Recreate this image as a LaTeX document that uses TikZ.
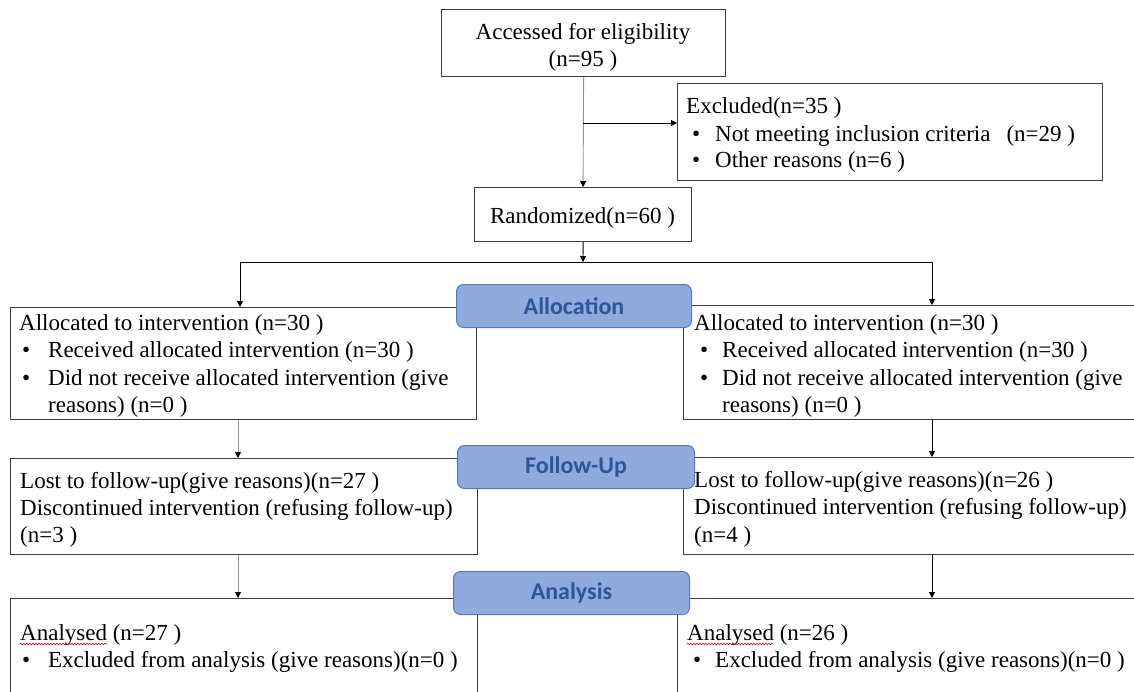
\documentclass[tikz,border=0pt]{standalone}
\usepackage{fontspec}
\setmainfont{Liberation Serif}
\newfontfamily\labfont{Carlito}
\usetikzlibrary{arrows.meta,decorations.pathmorphing}
\definecolor{labfill}{RGB}{143,170,220}
\definecolor{labdraw}{RGB}{84,120,196}
\definecolor{labtext}{RGB}{47,85,151}
\definecolor{boxdraw}{RGB}{60,60,60}
\definecolor{glinec}{RGB}{150,150,150}
\newcommand{\bul}[1]{\makebox[#1][l]{\textbullet}}
\begin{document}
\begin{tikzpicture}[x=1pt,y=-1pt,
  box/.style={draw=boxdraw,line width=1.2pt,inner sep=0pt,anchor=north west,fill=white},
  lab/.style={draw=labdraw,line width=1pt,fill=labfill,rounded corners=7pt,inner sep=0pt,
     anchor=north west,text=labtext,font=\labfont\bfseries\fontsize{24}{28}\selectfont},
  ln/.style={inner sep=0pt,anchor=base west,font=\fontsize{23}{27.5}\selectfont},
  lnc/.style={ln,anchor=base},
  conn/.style={draw=black,line width=0.9pt},
  gconn/.style={draw=glinec,line width=0.9pt},
  tip/.style={-{Triangle[length=6pt,width=6pt,color=black]}},
  squig/.style={draw=red!85!black,line width=0.6pt,decorate,
     decoration={snake,amplitude=0.8pt,segment length=3pt}}
]
\useasboundingbox (0,0) rectangle (1134,691);
\fill[white] (0,0) rectangle (1134,691);

% boxes
\node[box,minimum width=284pt,minimum height=67pt] (acc) at (441,9) {};
\node[box,minimum width=425pt,minimum height=97pt] (excl) at (677,83) {};
\node[box,minimum width=217pt,minimum height=54pt] (rand) at (474,187) {};
\node[box,minimum width=466pt,minimum height=112pt] (la) at (10,307) {};
\node[box,minimum width=460pt,minimum height=114pt] (ra) at (683,305) {};
\node[box,minimum width=467pt,minimum height=96pt] (lf) at (10,458) {};
\node[box,minimum width=460pt,minimum height=97pt] (rf) at (683,457) {};
\node[box,minimum width=467pt,minimum height=130pt] (lan) at (10,598) {};
\node[box,minimum width=466pt,minimum height=130pt] (ran) at (677,598) {};

% connectors
\coordinate (j1) at (583,123);
\draw[gconn,tip] (acc.south) -- (rand.north);
\draw[conn,tip] (j1) -- (j1 -| excl.west);
\coordinate (sl) at (240,262);
\coordinate (sr) at (932,262);
\coordinate (sm) at (583,262);
\draw[conn,tip] (rand.south) -- (sm);
\draw[conn] (sl) -- (sr);
\draw[conn,tip] (sl) -- (sl |- la.north);
\draw[conn,tip] (sr) -- (sr |- ra.north);
\coordinate (cl) at (238,0);
\draw[gconn,tip] (cl |- la.south) -- (cl |- lf.north);
\draw[gconn,tip] (cl |- lf.south) -- (cl |- lan.north);
\draw[conn,tip] (sr |- ra.south) -- (sr |- rf.north);
\draw[conn,tip] (sr |- rf.south) -- (sr |- ran.north);

% stage labels
\node[lab,minimum width=235pt,minimum height=43pt] (alloc) at (456,284) {Allocation};
\node[lab,minimum width=237pt,minimum height=43pt] (fup) at (457,445) {Follow-Up};
\node[lab,minimum width=236pt,minimum height=43pt] (anal) at (453,571) {Analysis};

% texts
\node[lnc] (t1) at (583,39) {Accessed for eligibility};
\node[lnc] (t2) at (583,66) {(n=95 )};

\node[ln] (e1) at (686,113) {Excluded(n=35 )};
\node[ln] (e2) at (692,141) {\bul{23pt}Not meeting inclusion criteria\hspace{16pt}(n=29 )};
\node[ln] (e3) at (692,167) {\bul{23pt}Other reasons (n=6 )};

\node[lnc] (r1) at (582.5,223) {Randomized(n=60 )};

\node[ln] (a1) at (19,330) {Allocated to intervention (n=30 )};
\node[ln] (a2) at (22,357) {\bul{26pt}Received allocated intervention (n=30 )};
\node[ln] (a3) at (22,385) {\bul{26pt}Did not receive allocated intervention (give};
\node[ln] (a4) at (48,412) {reasons) (n=0 )};

\node[ln] (b1) at (694,330) {Allocated to intervention (n=30 )};
\node[ln] (b2) at (700,357) {\bul{22pt}Received allocated intervention (n=30 )};
\node[ln] (b3) at (700,385) {\bul{22pt}Did not receive allocated intervention (give};
\node[ln] (b4) at (722,412) {reasons) (n=0 )};

\node[ln] (f1) at (20,488) {Lost to follow-up(give reasons)(n=27 )};
\node[ln] (f2) at (20,515) {Discontinued intervention (refusing follow-up)};
\node[ln] (f3) at (20,542) {(n=3 )};

\node[ln] (g1) at (694,487) {Lost to follow-up(give reasons)(n=26 )};
\node[ln] (g2) at (694,514) {Discontinued intervention (refusing follow-up)};
\node[ln] (g3) at (694,542) {(n=4 )};

\node[ln] (h1) at (20,640) {Analysed (n=27 )};
\node[ln] (h2) at (22,667) {\bul{26pt}Excluded from analysis (give reasons)(n=0 )};

\node[ln] (k1) at (687,640) {Analysed (n=26 )};
\node[ln] (k2) at (693,667) {\bul{22pt}Excluded from analysis (give reasons)(n=0 )};

% spell-check underline
\draw[squig] (h1.base west) ++(0,4) -- ++(87,0);
\draw[squig] (k1.base west) ++(0,4) -- ++(86,0);
\end{tikzpicture}
\end{document}
